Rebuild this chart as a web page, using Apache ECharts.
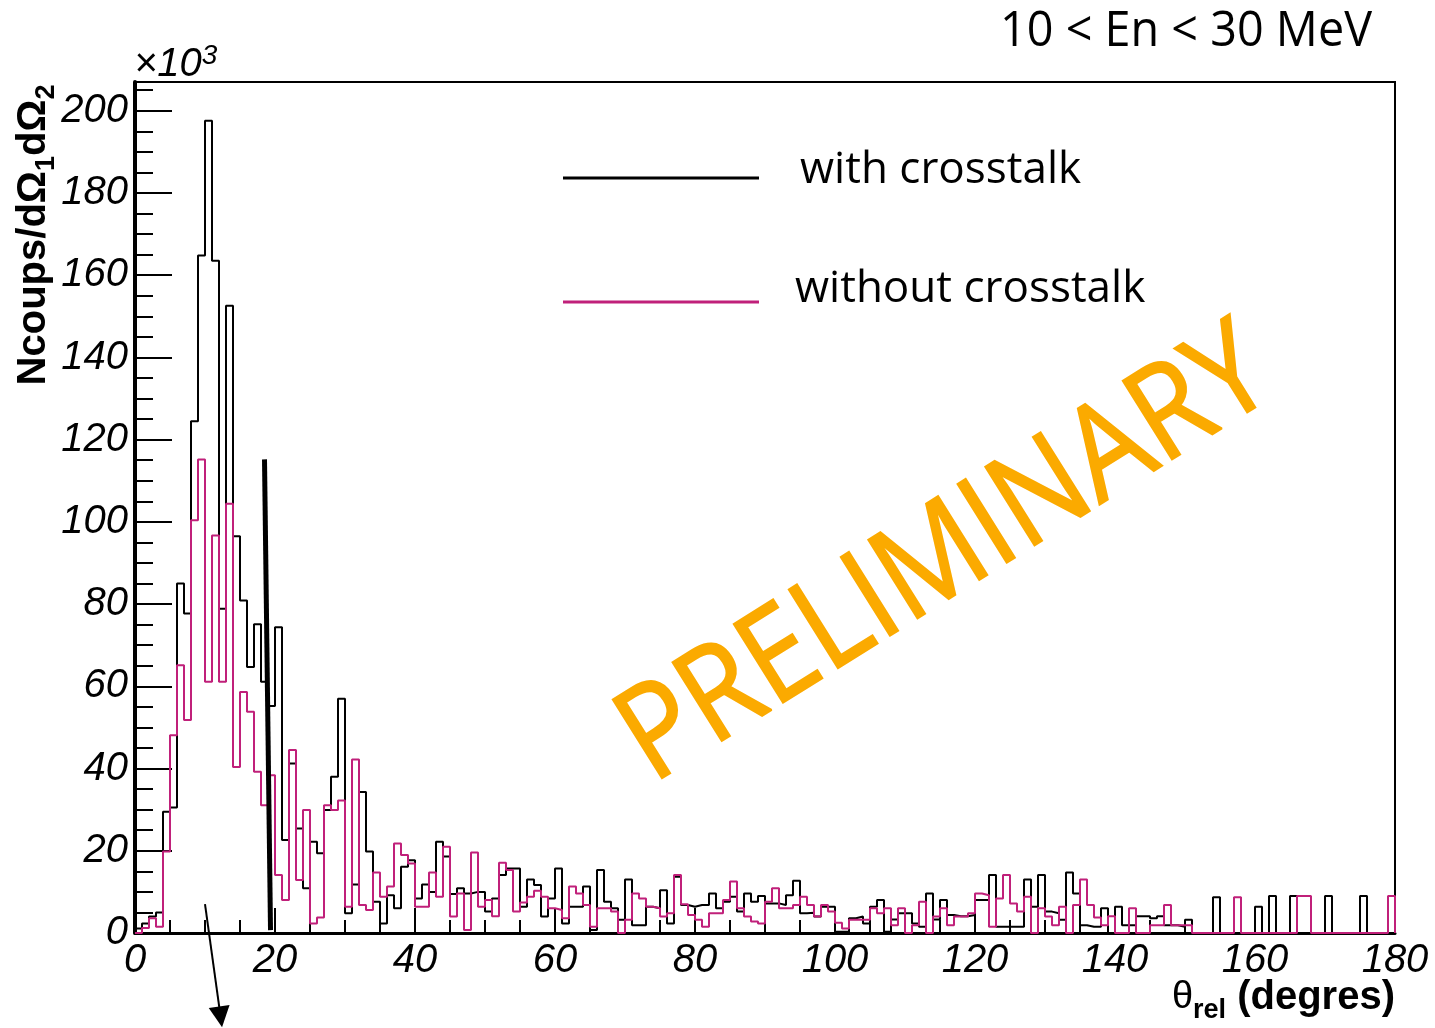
<!DOCTYPE html>
<html>
<head>
<meta charset="utf-8">
<title>theta_rel distribution</title>
<script src="https://cdn.jsdelivr.net/npm/echarts@6/dist/echarts.min.js"></script>
<style>
  html, body { margin: 0; padding: 0; background: #fff; }
  #chart { width: 1435px; height: 1028px; }
</style>
</head>
<body>
<div id="chart"></div>
<script>
// Relative angle distribution, 1-degree bins from 0 to 180 (counts in units of 10^3)
const binWidth = 1;

const withCrosstalk = [
  1.1, 2.3, 4.0, 5.0, 29.5, 30.5, 85.0, 77.7, 124.5, 164.8,
  197.6, 163.5, 78.9, 152.6, 96.5, 80.9, 64.7, 75.1, 61.1, 55.2,
  74.4, 22.6, 41.2, 25.4, 10.9, 22.2, 19.4, 29.9, 38.0, 57.0,
  4.8, 11.8, 34.3, 19.8, 7.6, 2.3, 9.2, 6.0, 16.1, 17.7,
  8.4, 11.8, 10.0, 22.2, 18.6, 9.5, 10.9, 9.6, 10.0, 10.0,
  5.2, 8.4, 14.1, 15.7, 15.7, 6.4, 13.0, 11.7, 4.0, 8.4,
  15.7, 2.3, 6.4, 6.4, 11.3, 0.7, 15.3, 7.6, 6.0, 3.2,
  13.0, 1.9, 1.9, 6.4, 6.0, 10.4, 2.3, 13.7, 6.8, 6.4,
  6.8, 6.8, 9.6, 6.0, 7.6, 8.8, 5.2, 9.6, 7.6, 9.0,
  7.2, 7.2, 6.8, 9.2, 12.7, 4.8, 4.9, 4.0, 6.4, 6.4,
  0.3, 0.3, 3.6, 4.0, 2.3, 6.4, 8.0, 0.3, 3.3, 4.8,
  4.8, 2.3, 1.5, 9.6, 3.3, 8.0, 4.4, 4.1, 4.1, 4.4,
  8.0, 8.0, 14.1, 1.5, 1.5, 1.5, 1.5, 13.0, 6.4, 14.1,
  5.2, 4.8, 3.2, 14.7, 9.6, 1.9, 1.5, 1.5, 6.0, 0,
  6.4, 1.9, 1.9, 4.1, 4.1, 3.6, 4.1, 1.9, 1.9, 1.5,
  3.2, 0, 0, 0, 8.7, 0, 0, 0, 0, 0,
  6.4, 0, 9.0, 0, 0, 9.0, 0, 0, 0, 0,
  9.0, 0, 0, 0, 0, 9.0, 0, 0, 0, 0
];

const withoutCrosstalk = [
  0, 1.2, 3.6, 1.5, 19.8, 48.1, 65.1, 51.8, 100.4, 115.2,
  61.1, 96.7, 61.1, 104.4, 40.4, 58.6, 53.8, 39.2, 31.1, 38.4,
  14.1, 8.0, 44.5, 12.9, 29.9, 2.3, 3.8, 31.1, 29.9, 32.2,
  6.4, 42.2, 6.8, 5.6, 14.7, 8.8, 11.3, 21.8, 19.0, 16.9,
  6.4, 6.4, 14.7, 8.8, 21.0, 4.0, 9.6, 0.7, 19.6, 6.4,
  8.0, 4.1, 17.1, 15.3, 5.2, 7.4, 8.8, 10.3, 8.8, 6.0,
  5.6, 3.6, 11.3, 9.6, 6.8, 1.5, 6.0, 6.0, 5.2, 0,
  3.2, 9.6, 8.4, 6.4, 6.0, 4.0, 4.8, 14.1, 7.0, 4.4,
  3.2, 1.5, 4.8, 4.8, 8.0, 12.5, 6.0, 4.0, 2.8, 2.3,
  7.6, 10.9, 6.0, 6.0, 6.8, 8.8, 6.8, 4.0, 6.8, 5.2,
  2.5, 1.1, 3.2, 3.2, 3.2, 6.0, 4.8, 6.0, 1.9, 6.0,
  0, 1.9, 7.6, 0, 4.0, 6.0, 1.9, 4.0, 4.0, 4.8,
  9.6, 9.2, 1.5, 8.4, 14.1, 7.2, 5.2, 8.8, 0, 6.0,
  4.0, 1.9, 6.4, 0, 6.8, 13.0, 6.8, 3.8, 1.9, 4.1,
  0, 0, 6.0, 0, 0, 1.9, 1.9, 6.8, 1.9, 1.9,
  1.9, 0, 0, 0, 0, 0, 0, 8.7, 0, 0,
  0, 0, 0, 0, 0, 0, 9.0, 9.0, 0, 0,
  0, 0, 0, 0, 0, 0, 0, 0, 0, 9.0
];

const seriesNames = ['with crosstalk', 'without crosstalk'];
const xTickLabels = [0, 20, 40, 60, 80, 100, 120, 140, 160, 180];
const yTickLabels = [0, 20, 40, 60, 80, 100, 120, 140, 160, 180, 200];

// Hand-drawn annotations, in (degrees, 10^3 counts)
const cutLine = [[18.5, 115.2], [19.36, 0.7]];
const arrowLine = [[10.0, 7.05], [12.23, -20.4]];

const MAGENTA = '#c0207a';
const LABEL_FONT = 'Liberation Sans, Arial, sans-serif';
const HAND_FONT = 'Open Sans, Noto Sans, sans-serif';

// Outline of a histogram: horizontal run across each bin, vertical jumps at edges
function histOutline(values) {
  const pts = [[0, 0]];
  values.forEach((v, i) => pts.push([i * binWidth, v]));
  const end = values.length * binWidth;
  pts.push([end, values[values.length - 1]]);
  pts.push([end, 0]);
  return pts;
}

const chart = echarts.init(document.getElementById('chart'), null, { renderer: 'canvas' });

const legendText = { fontFamily: HAND_FONT, fontSize: 44, color: '#000', lineHeight: 50, verticalAlign: 'top' };

const option = {
  animation: false,
  backgroundColor: '#fff',
  color: ['#000', MAGENTA],
  grid: {
    left: 135, right: 40, top: 82, bottom: 95,
    show: true, borderColor: '#000', borderWidth: 2, backgroundColor: '#fff'
  },
  legend: {
    data: seriesNames,
    orient: 'vertical',
    left: 563, top: 148,
    padding: 0,
    itemWidth: 196, itemHeight: 3,
    itemGap: 75,
    icon: 'rect',
    selectedMode: false,
    // text sits a little above its sample line
    formatter: name => (name === seriesNames[0] ? `{a|${name}}{ga| }` : `{b|${name}}{gb| }`),
    textStyle: {
      fontFamily: HAND_FONT, fontSize: 44, color: '#000',
      rich: {
        a: Object.assign({ padding: [0, 0, 0, 36] }, legendText),
        b: Object.assign({ padding: [0, 0, 0, 31] }, legendText),
        ga: { fontSize: 4, lineHeight: 60, verticalAlign: 'middle' },
        gb: { fontSize: 4, lineHeight: 70, verticalAlign: 'middle' }
      }
    }
  },
  xAxis: [{
    type: 'value', min: 0, max: 180, interval: 20,
    axisLine: { show: true, onZero: false, lineStyle: { color: '#000', width: 3 } },
    axisTick: { show: true, inside: true, length: 25, lineStyle: { color: '#000', width: 2 } },
    minorTick: { show: true, splitNumber: 4, length: 13, lineStyle: { color: '#000', width: 2 } },
    splitLine: { show: false },
    axisLabel: {
      margin: 8, color: '#000', fontSize: 40, fontStyle: 'italic', fontFamily: LABEL_FONT,
      formatter: v => (xTickLabels.includes(v) ? String(v) : '')
    }
  }],
  yAxis: [{
    type: 'value', min: 0, max: 207, interval: 20, position: 'left',
    axisLine: { show: true, onZero: false, lineStyle: { color: '#000', width: 4 } },
    axisTick: { show: true, inside: true, length: 37, lineStyle: { color: '#000', width: 2 } },
    splitLine: { show: false },
    axisLabel: {
      margin: 7, color: '#000', fontSize: 40, fontStyle: 'italic', fontFamily: LABEL_FONT,
      formatter: v => (yTickLabels.includes(v) ? String(v) : '')
    }
  }, {
    // secondary divisions every 5 units
    type: 'value', min: 0, max: 207, interval: 5, position: 'left',
    axisLine: { show: false },
    axisTick: { show: true, inside: true, length: 18, lineStyle: { color: '#000', width: 2 } },
    splitLine: { show: false },
    axisLabel: { show: false }
  }],
  series: [{
    name: seriesNames[0],
    type: 'line', step: 'end', symbol: 'none', silent: true,
    data: histOutline(withCrosstalk),
    itemStyle: { color: '#000' },
    lineStyle: { color: '#000', width: 2 },
    z: 3
  }, {
    name: seriesNames[1],
    type: 'line', step: 'end', symbol: 'none', silent: true,
    data: histOutline(withoutCrosstalk),
    itemStyle: { color: MAGENTA },
    lineStyle: { color: MAGENTA, width: 2 },
    z: 4
  }, {
    type: 'lines', coordinateSystem: 'cartesian2d', silent: true, clip: false,
    symbol: ['none', 'none'],
    data: [{ coords: cutLine }],
    lineStyle: { color: '#000', width: 5, opacity: 1 },
    z: 5
  }, {
    type: 'lines', coordinateSystem: 'cartesian2d', silent: true, clip: false,
    symbol: ['none', 'triangle'], symbolSize: 21,
    data: [{ coords: arrowLine }],
    itemStyle: { color: '#000' },
    lineStyle: { color: '#000', width: 2, opacity: 1 },
    z: 5
  }],
  graphic: [{
    // y axis title
    type: 'text', x: 34, y: 235, rotation: Math.PI / 2, silent: true,
    style: {
      text: '{m|Ncoups/dΩ}{s|1}{m|dΩ}{s|2}',
      align: 'center', verticalAlign: 'middle', fill: '#000',
      rich: {
        m: { fontFamily: LABEL_FONT, fontWeight: 'bold', fontSize: 40, lineHeight: 52, verticalAlign: 'middle' },
        s: { fontFamily: LABEL_FONT, fontWeight: 'bold', fontSize: 27, lineHeight: 23, verticalAlign: 'bottom' }
      }
    }
  }, {
    // axis multiplier
    type: 'text', x: 134, y: 65, silent: true,
    style: {
      text: '{m|×10}{p|3}',
      align: 'left', verticalAlign: 'middle', fill: '#000',
      rich: {
        m: { fontFamily: LABEL_FONT, fontStyle: 'italic', fontSize: 40, lineHeight: 46, verticalAlign: 'middle' },
        p: { fontFamily: LABEL_FONT, fontStyle: 'italic', fontSize: 28, lineHeight: 20, verticalAlign: 'top' }
      }
    }
  }, {
    // x axis title
    type: 'text', x: 1395, y: 998, silent: true,
    style: {
      text: '{g|θ}{s|rel}{m| (degres)}',
      align: 'right', verticalAlign: 'middle', fill: '#000',
      rich: {
        g: { fontFamily: LABEL_FONT, fontSize: 38, lineHeight: 52, verticalAlign: 'middle' },
        s: { fontFamily: LABEL_FONT, fontWeight: 'bold', fontSize: 27, lineHeight: 22, verticalAlign: 'bottom' },
        m: { fontFamily: LABEL_FONT, fontWeight: 'bold', fontSize: 40, lineHeight: 52, verticalAlign: 'middle' }
      }
    }
  }, {
    // energy window
    type: 'text', x: 1372, y: 32, scaleX: 0.935, silent: true,
    style: {
      text: '10 < En < 30 MeV',
      align: 'right', verticalAlign: 'middle', fill: '#000',
      fontFamily: HAND_FONT, fontSize: 50
    }
  }, {
    type: 'text', x: 946, y: 557, rotation: 32 * Math.PI / 180, scaleX: 0.9, silent: true, z: 10,
    style: {
      text: 'PRELIMINARY',
      align: 'center', verticalAlign: 'middle', fill: '#fbaa00',
      stroke: '#fbaa00', lineWidth: 2,
      fontFamily: HAND_FONT, fontSize: 130
    }
  }]
};

chart.setOption(option);
</script>
</body>
</html>
